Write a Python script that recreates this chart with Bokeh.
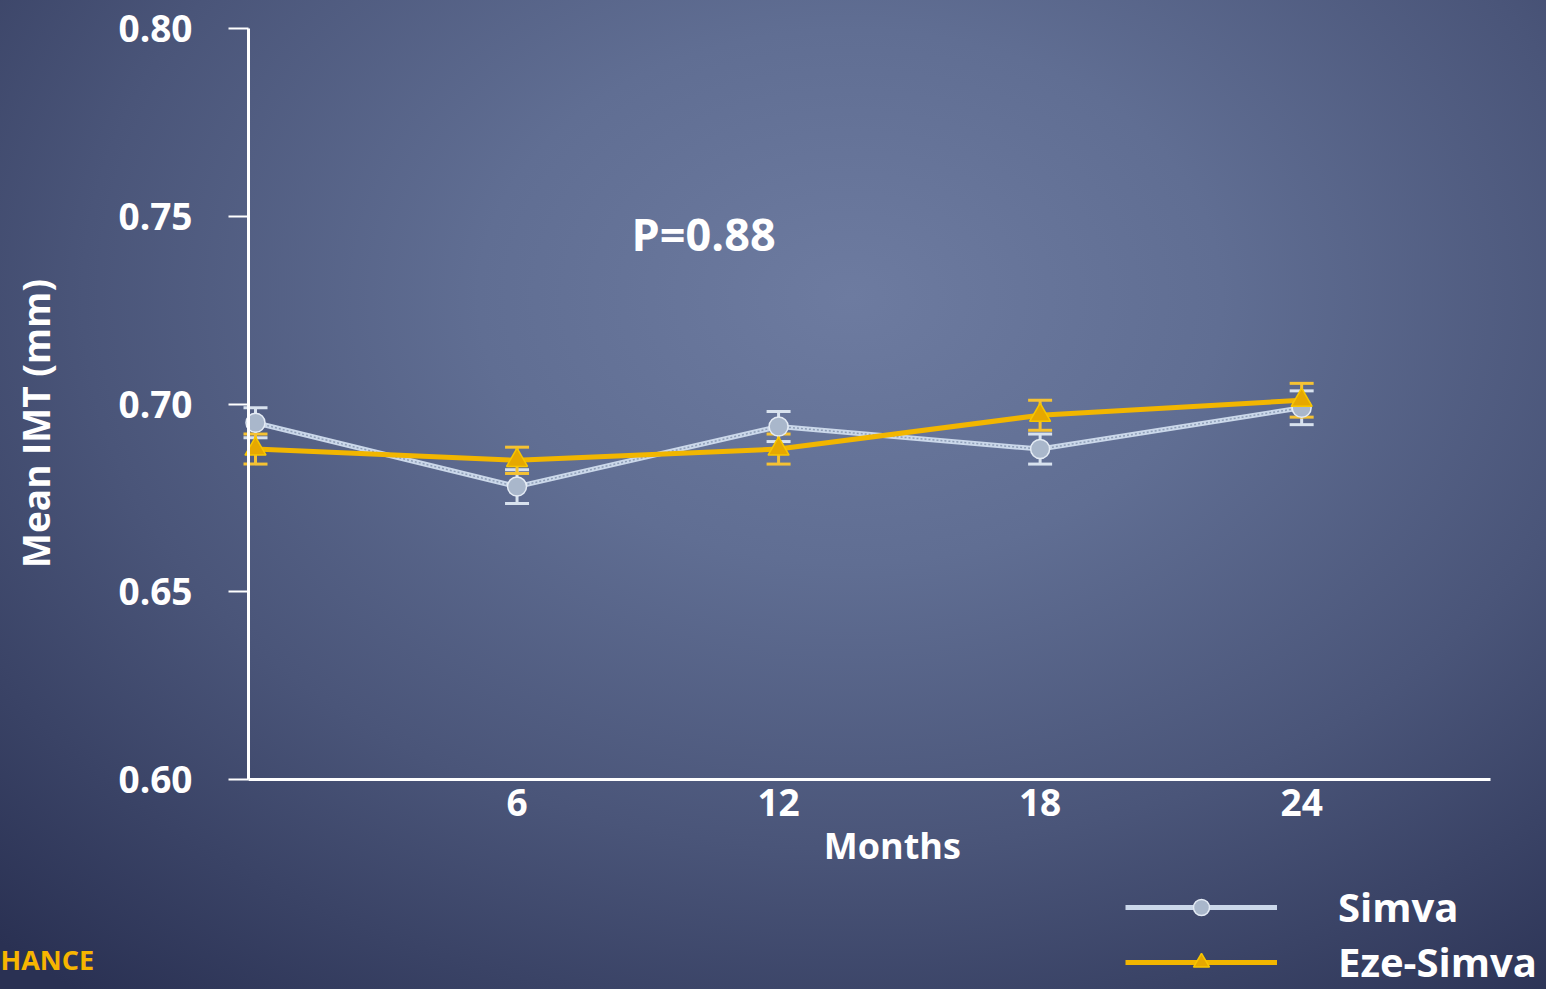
import math
from bokeh.plotting import figure
from bokeh.models import (ColumnDataSource, Range1d, FixedTicker, Whisker, TeeHead,
                          Label, Legend, LegendItem, LinearAxis)
from bokeh.embed import file_html
from bokeh.resources import INLINE

# ---- data ----
months = [0, 6, 12, 18, 24]
simva = [0.695, 0.678, 0.694, 0.688, 0.699]
simva_err = [0.004, 0.0045, 0.004, 0.004, 0.0045]
eze = [0.688, 0.685, 0.688, 0.697, 0.701]
eze_err = [0.004, 0.0035, 0.004, 0.004, 0.0045]
x_ticks = [6, 12, 18, 24]
y_ticks = [0.60, 0.65, 0.70, 0.75, 0.80]
y_tick_labels = ["0.60", "0.65", "0.70", "0.75", "0.80"]
series_names = ["Simva", "Eze-Simva"]

FONT = "Open Sans"
WHITE = "#ffffff"
SILVER = "#cbd8ea"
GOLD = "#f2b600"

# axis extents (data units)
X_MIN, X_MAX = -0.16, 28.33
Y_MIN, Y_MAX = 0.60, 0.80

s_src = ColumnDataSource(dict(x=months, y=simva,
                              lo=[v - e for v, e in zip(simva, simva_err)],
                              hi=[v + e for v, e in zip(simva, simva_err)]))
e_src = ColumnDataSource(dict(x=months, y=eze,
                              lo=[v - e for v, e in zip(eze, eze_err)],
                              hi=[v + e for v, e in zip(eze, eze_err)]))

p = figure(width=1546, height=989, output_backend="svg", toolbar_location=None,
           x_range=Range1d(-5.850, 29.617), y_range=Range1d(0.54407, 0.80746),
           x_axis_type=None, y_axis_type=None,
           min_border_left=0, min_border_top=0, min_border_right=0, min_border_bottom=0)
p.styles = {
    "background": "radial-gradient(ellipse 80% 90% at 55% 30%, #6d7ba0 0%, #606e93 30%, #4a5579 62%, #2a3153 100%)",
}
p.background_fill_alpha = 0
p.border_fill_alpha = 0
p.outline_line_color = None
p.grid.visible = False

# axes (fixed at the data origin, limited by bounds)
xaxis = LinearAxis(fixed_location=Y_MIN, bounds=(X_MIN, X_MAX),
                   ticker=FixedTicker(ticks=x_ticks))
yaxis = LinearAxis(fixed_location=X_MIN, bounds=(Y_MIN, Y_MAX),
                   ticker=FixedTicker(ticks=y_ticks))
yaxis.major_label_overrides = {t: l for t, l in zip(y_ticks, y_tick_labels)}
for ax in (xaxis, yaxis):
    ax.axis_line_color = WHITE
    ax.axis_line_width = 3
    ax.major_tick_line_color = WHITE
    ax.major_tick_line_width = 2
    ax.minor_tick_line_color = None
    ax.major_label_text_color = WHITE
    ax.major_label_text_font = FONT
    ax.major_label_text_font_style = "bold"
    ax.major_label_text_font_size = "37px"
xaxis.major_tick_out = 0
xaxis.major_tick_in = 0
xaxis.major_label_standoff = 10
yaxis.major_tick_out = 20
yaxis.major_tick_in = 0
yaxis.major_label_standoff = 36
p.add_layout(xaxis, "below")
p.add_layout(yaxis, "left")

# lines
l_s = p.line("x", "y", source=s_src, line_color=SILVER, line_width=5)
l_s2 = p.line("x", "y", source=s_src, line_color="#8f9fb8", line_width=1.5, line_dash="2 2")
l_e = p.line("x", "y", source=e_src, line_color=GOLD, line_width=5)

# error bars
p.add_layout(Whisker(source=s_src, base="x", lower="lo", upper="hi", dimension="height",
                     line_color="#d8e2ee", line_width=3,
                     upper_head=TeeHead(size=24, line_color="#d8e2ee", line_width=3),
                     lower_head=TeeHead(size=24, line_color="#d8e2ee", line_width=3)))
p.add_layout(Whisker(source=e_src, base="x", lower="lo", upper="hi", dimension="height",
                     line_color="#f5c233", line_width=3,
                     upper_head=TeeHead(size=24, line_color="#f5c233", line_width=3),
                     lower_head=TeeHead(size=24, line_color="#f5c233", line_width=3)))

# markers
m_s = p.scatter("x", "y", source=s_src, marker="circle", size=19,
                fill_color="#a9b7cb", line_color="#e4ebf4", line_width=1.5)
m_e = p.scatter("x", "y", source=e_src, marker="triangle", size=21,
                fill_color="#e6a800", line_color="#f7c600", line_width=1.5)

# legend
legend = Legend(items=[LegendItem(label=series_names[0], renderers=[l_s, m_s]),
                       LegendItem(label=series_names[1], renderers=[l_e, m_e])],
                location=(1125, 0), orientation="vertical",
                glyph_width=152, glyph_height=40, label_height=40, spacing=-6,
                label_standoff=61, padding=0, margin=0,
                border_line_alpha=0, background_fill_alpha=0,
                label_text_color=WHITE, label_text_font=FONT,
                label_text_font_style="bold", label_text_font_size="40px")
p.add_layout(legend, "center")

# texts
def add_text(x, y, text, size, color=WHITE, align="center", angle=0.0):
    p.add_layout(Label(x=x, y=y, text=text, text_color=color,
                       text_font=FONT, text_font_style="bold", text_font_size=size,
                       text_align=align, text_baseline="middle", angle=angle))

add_text(10.28, 0.74541, "P=0.88", "45px")
add_text(14.61, 0.58242, "Months", "36px")
add_text(-5.047, 0.69481, "Mean IMT (mm)", "37px", angle=math.pi / 2)
add_text(-5.85, 0.55207, "HANCE", "27px", color="#f7b500", align="left")

open("out.html", "w").write(file_html(p, INLINE))
